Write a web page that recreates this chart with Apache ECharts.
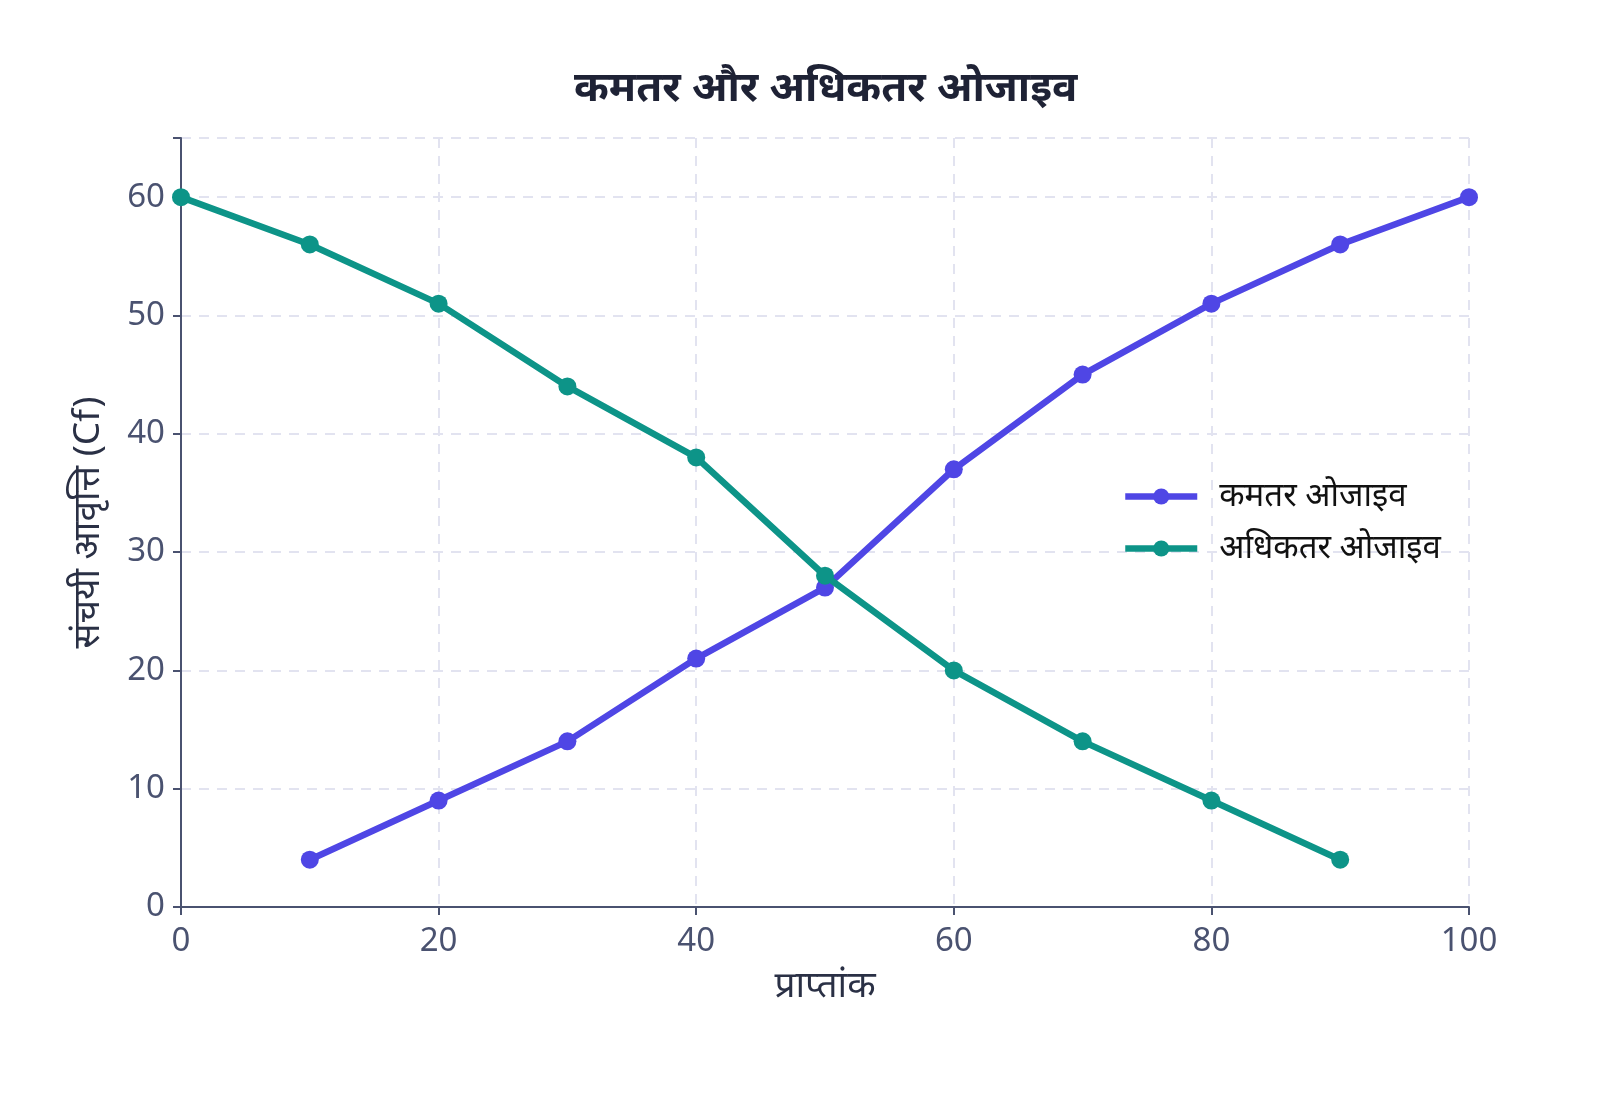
<!DOCTYPE html>
<html>
<head>
<meta charset="utf-8">
<script src="https://cdn.jsdelivr.net/npm/echarts@6/dist/echarts.min.js"></script>
<style>
html,body{margin:0;padding:0;background:#fff;}
#chart{width:1600px;height:1096px;}
</style>
</head>
<body>
<div id="chart"></div>
<script>
const titleText = 'कमतर और अधिकतर ओजाइव';
const xAxisName = 'प्राप्तांक';
const yAxisName = 'संचयी आवृत्ति (Cf)';
const lessName = 'कमतर ओजाइव';
const moreName = 'अधिकतर ओजाइव';
const lessX = [10, 20, 30, 40, 50, 60, 70, 80, 90, 100];
const lessY = [4, 9, 14, 21, 27, 37, 45, 51, 56, 60];
const moreX = [0, 10, 20, 30, 40, 50, 60, 70, 80, 90];
const moreY = [60, 56, 51, 44, 38, 28, 20, 14, 9, 4];

const font = '"Noto Sans", "Noto Sans Devanagari", sans-serif';
const axisColor = '#4a5270';
const labelColor = '#4a5270';

const chart = echarts.init(document.getElementById('chart'));
chart.setOption({
  backgroundColor: '#ffffff',
  animation: false,
  textStyle: { fontFamily: font },
  title: {
    text: titleText,
    left: 569,
    top: 63,
    textStyle: { fontSize: 42, fontWeight: 'bold', color: '#1e2235', fontFamily: font }
  },
  legend: {
    orient: 'vertical',
    left: 1117,
    top: 475,
    itemWidth: 72,
    itemHeight: 20,
    itemGap: 19,
    lineStyle: { width: 6.5 },
    textStyle: { fontSize: 33, lineHeight: 33, color: '#111111', fontFamily: font, padding: [0, 0, 0, 17] },
    data: [lessName, moreName]
  },
  grid: { left: 181, right: 131, top: 138, bottom: 189, containLabel: false },
  xAxis: {
    type: 'value',
    min: 0, max: 100, interval: 20,
    name: xAxisName,
    nameLocation: 'middle',
    nameGap: 61,
    nameTextStyle: { fontSize: 37, color: '#2a3045', fontFamily: font },
    axisLine: { show: true, lineStyle: { color: axisColor, width: 2 } },
    axisTick: { show: true, length: 8, lineStyle: { color: axisColor, width: 2 } },
    axisLabel: { fontSize: 33, color: labelColor, margin: 18, fontFamily: font },
    splitLine: { show: true, lineStyle: { color: '#e2e3f0', width: 2, type: [10, 8] } }
  },
  yAxis: {
    type: 'value',
    min: 0, max: 65, interval: 10,
    name: yAxisName,
    nameLocation: 'middle',
    nameGap: 74,
    nameTextStyle: { fontSize: 37, color: '#2a3045', fontFamily: font },
    axisLine: { show: true, lineStyle: { color: axisColor, width: 2 } },
    axisTick: { show: true, length: 8, lineStyle: { color: axisColor, width: 2 } },
    axisLabel: { fontSize: 33, color: labelColor, margin: 16, fontFamily: font,
      formatter: v => (v % 10 === 0 ? v : '') },
    splitLine: { show: true, lineStyle: { color: '#e2e3f0', width: 2, type: [10, 8] } }
  },
  series: [
    {
      name: lessName,
      type: 'line',
      data: lessX.map((x, i) => [x, lessY[i]]),
      symbol: 'circle',
      symbolSize: 18,
      lineStyle: { color: '#4f46e5', width: 6.5 },
      itemStyle: { color: '#4f46e5' },
      z: 2
    },
    {
      name: moreName,
      type: 'line',
      data: moreX.map((x, i) => [x, moreY[i]]),
      symbol: 'circle',
      symbolSize: 18,
      lineStyle: { color: '#0d9488', width: 6.5 },
      itemStyle: { color: '#0d9488' },
      z: 3
    }
  ]
});
</script>
</body>
</html>
